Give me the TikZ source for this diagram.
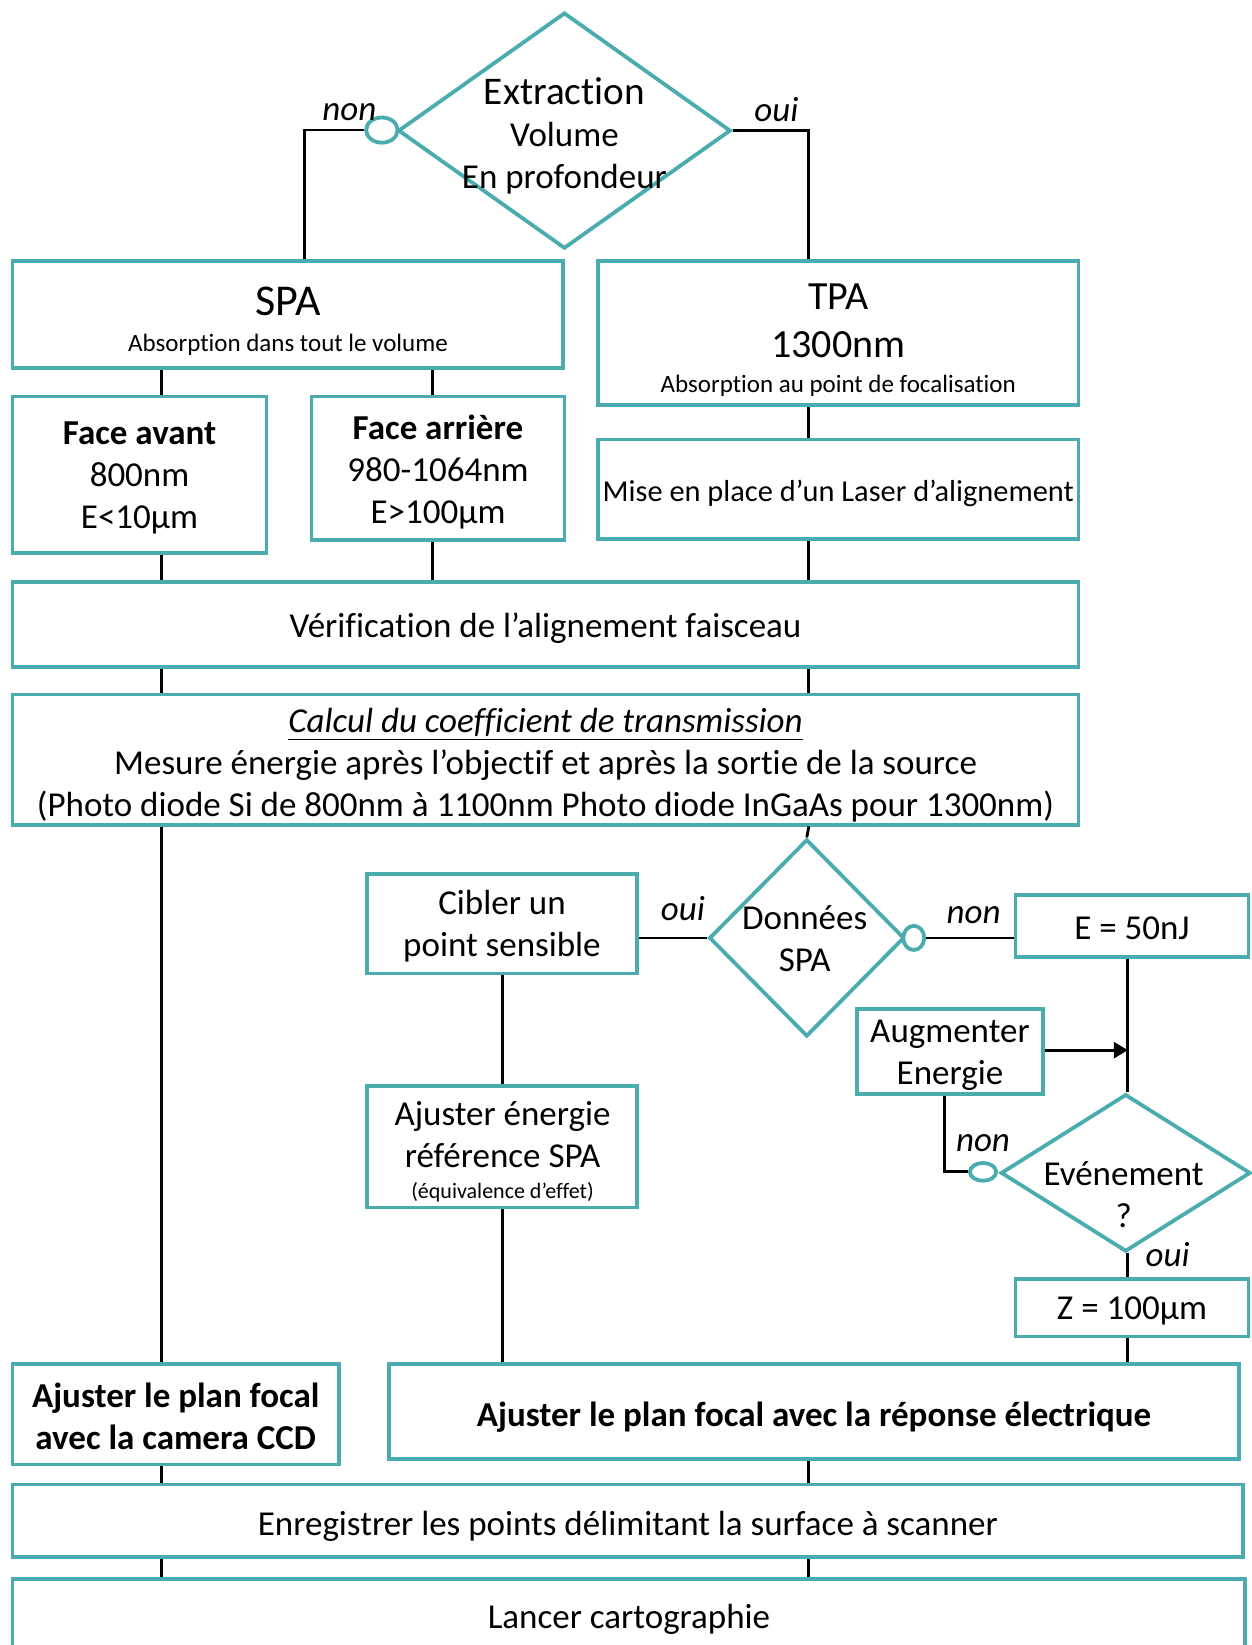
\documentclass[tikz,border=0pt]{standalone}
\usepackage{fontspec}
\setmainfont{Carlito}[Ligatures=NoCommon]
\usetikzlibrary{shapes.geometric,fit,arrows.meta}
\newlength\U \setlength\U{0.52473pt}
\definecolor{tl}{RGB}{75,172,176}
\newcommand\fmain{\fontsize{17.5}{21}\selectfont}
\begin{document}
\begin{tikzpicture}[x=\U,y=-\U,
  every node/.style={font=\fmain,align=center},
  box/.style={draw=tl,line width=1.9pt,inner sep=0pt},
  dia/.style={diamond,draw=tl,line width=1.9pt,inner sep=0pt},
  mk/.style={ellipse,draw=tl,fill=white,line width=1.9pt,inner sep=0pt},
  conn/.style={line width=1.4pt},
  ct/.style={yshift=-1.8pt},
  lab/.style={font=\fmain\itshape}]
\useasboundingbox (0,0) rectangle (1193,1568);
% x positions of vertical connectors
\coordinate (xa) at (154,0);
\coordinate (xb) at (412,0);
\coordinate (xc) at (771,0);
\coordinate (xd) at (479,0);
\coordinate (xe) at (1075,0);
\coordinate (xf) at (290,0);
% top decision
\node[dia,minimum width=317\U,minimum height=225\U] (d1) at (538,124.5) {};
\node (d1a) at (538,87) {\fontsize{19.6}{23}\selectfont Extraction};
\node (d1b) at (538,151) {Volume\\En profondeur};
\node[mk,minimum width=30\U,minimum height=24\U] (m1) at (364,124) {};
\node[lab] (l1) at (333,107) {non};
\node[lab] (l2) at (740,104) {oui};
% SPA / TPA
\node[box,fit={(12,249)(537,351)}] (spa) {};
\node (spa1) at (274.5,287) {\fontsize{22}{26}\selectfont SPA};
\node (spa2) at (274.5,329) {\fontsize{12.5}{15}\selectfont Absorption dans tout le volume};
\node[box,fit={(570,249)(1028,386)}] (tpa) {};
\node (tpa1) at (799,283) {\fontsize{20}{24}\selectfont TPA};
\node (tpa2) at (799,329) {\fontsize{20}{24}\selectfont 1300nm};
\node (tpa3) at (799,368) {\fontsize{12.5}{15}\selectfont Absorption au point de focalisation};
\draw[conn] (m1.west) -- (m1.west -| xf) -- (xf |- spa.north);
\draw[conn] (d1.east) -- (d1.east -| xc) -- (xc |- tpa.north);
% faces
\node[box,fit={(12,378)(254,527)}] (fav) {};
\node[ct] (favt) at (fav.center) {{\bfseries Face avant}\\800nm\\E<10µm};
\node[box,fit={(297,378)(538,515)}] (far) {};
\node[ct] (fart) at (far.center) {{\bfseries Face arrière}\\980-1064nm\\E>100µm};
\node[box,fit={(570,419)(1028,514)}] (mep) {};
\node[ct] (mept) at (mep.center) {\fontsize{15.2}{18}\selectfont Mise en place d’un Laser d’alignement};
\draw[conn] (spa.south -| xa) -- (fav.north -| xa);
\draw[conn] (spa.south -| xb) -- (far.north -| xb);
\draw[conn] (tpa.south -| xc) -- (mep.north -| xc);
% verification / calcul
\node[box,fit={(12,555)(1028,636)}] (ver) {};
\node[ct] (vert) at (ver.center) {Vérification de l’alignement faisceau};
\draw[conn] (fav.south -| xa) -- (ver.north -| xa);
\draw[conn] (far.south -| xb) -- (ver.north -| xb);
\draw[conn] (mep.south -| xc) -- (ver.north -| xc);
\node[box,fit={(12,662)(1028,786)}] (cal) {};
\node[ct,yshift=-0.8pt] (calt) at (cal.center) {\underline{\itshape Calcul du coefficient de transmission}\\Mesure énergie après l’objectif et après la sortie de la source\\(Photo diode Si de 800nm à 1100nm Photo diode InGaAs pour 1300nm)};
\draw[conn] (ver.south -| xa) -- (cal.north -| xa);
\draw[conn] (ver.south -| xc) -- (cal.north -| xc);
% Donnees SPA
\node[dia,minimum width=186\U,minimum height=188\U] (d2) at (769,894) {};
\node (d2t) at (767,895) {Données\\SPA};
\draw[conn] (cal.south -| xc) -- (d2.north);
\node[box,fit={(350,833)(607,928)}] (cib) {};
\node[ct,yshift=0.6pt] (cibt) at (cib.center) {Cibler un\\point sensible};
\draw[conn] (d2.west) -- (cib.east |- d2.west);
\node[lab] (l3) at (651,866) {oui};
\node[mk,minimum width=20\U,minimum height=23\U] (m2) at (871,894) {};
\node[box,fit={(968,853)(1190,912)}] (e50) {};
\node[ct,yshift=0.6pt] (e50t) at (e50.center) {E = 50nJ};
\draw[conn] (m2.east) -- (e50.west |- m2.east);
\node[lab] (l4) at (928,872) {non};
% event loop
\node[dia,minimum width=238\U,minimum height=150\U] (d3) at (1073,1118) {};
\node (d3t) at (1071,1139) {Evénement\\?};
\draw[conn] (e50.south -| xe) -- (d3.north -| xe);
\node[box,fit={(817,962)(994,1043)}] (aug) {};
\node[ct] (augt) at (aug.center) {Augmenter\\Energie};
\coordinate (ca) at (1075,1001);
\draw[conn,-{Triangle[length=7pt,width=8pt]}] (aug.east |- ca) -- (ca);
\node[mk,minimum width=25\U,minimum height=17\U] (m3) at (937,1117) {};
\coordinate (cb) at (900,1117);
\draw[conn] (aug.south -| cb) -- (cb) -- (m3.west);
\node[lab] (l5) at (937,1090) {non};
\node[lab] (l6) at (1113,1196) {oui};
\node[box,fit={(968,1219)(1190,1274)}] (zz) {};
\node[ct] (zzt) at (zz.center) {Z = 100µm};
\draw[conn] (d3.south -| xe) -- (zz.north -| xe);
% ajuster energie
\node[box,fit={(350,1035)(607,1151)}] (aje) {};
\node (aje1) at (479,1081) {Ajuster énergie\\référence SPA};
\node (aje2) at (479,1136) {\fontsize{11}{13}\selectfont (équivalence d’effet)};
\draw[conn] (cib.south -| xd) -- (aje.north -| xd);
% bottom
\node[box,fit={(12,1300)(323,1396)}] (ccd) {};
\node[ct,yshift=0.6pt] (ccdt) at (ccd.center) {\bfseries Ajuster le plan focal\\\bfseries avec la camera CCD};
\node[box,fit={(371,1300)(1181,1391)}] (rep) {};
\node[ct,yshift=-0.8pt] (rept) at (rep.center) {\bfseries Ajuster le plan focal avec la réponse électrique};
\draw[conn] (aje.south -| xd) -- (rep.north -| xd);
\draw[conn] (zz.south -| xe) -- (rep.north -| xe);
\draw[conn] (cal.south -| xa) -- (ccd.north -| xa);
\node[box,fit={(12,1415)(1185,1484)}] (enr) {};
\node[ct,yshift=-0.8pt] (enrt) at (enr.center) {Enregistrer les points délimitant la surface à scanner};
\node[box,fit={(12,1505)(1187,1575)}] (lan) {};
\node[ct] (lant) at (lan.center) {Lancer cartographie};
\draw[conn] (ccd.south -| xa) -- (enr.north -| xa);
\draw[conn] (rep.south -| xc) -- (enr.north -| xc);
\draw[conn] (enr.south -| xa) -- (lan.north -| xa);
\draw[conn] (enr.south -| xc) -- (lan.north -| xc);
\end{tikzpicture}
\end{document}
